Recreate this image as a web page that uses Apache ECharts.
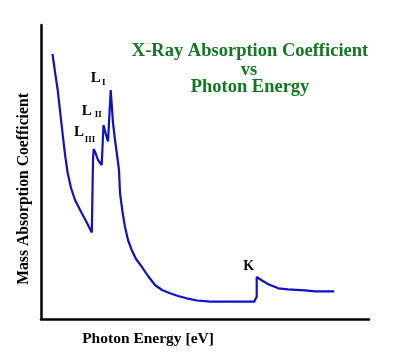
<!DOCTYPE html>
<html>
<head>
<meta charset="utf-8">
<script src="https://cdn.jsdelivr.net/npm/echarts@6/dist/echarts.min.js"></script>
<style>
html,body{margin:0;padding:0;background:#fff;}
#chart{width:395px;height:364px;}
</style>
</head>
<body>
<div id="chart"></div>
<script>
// Photon energy (arbitrary units) and mass absorption coefficient (arbitrary units)
var energy = [11.5,14,16.7,19.5,22.3,24.5,26.7,30,34,40.7,46,50.8,52,52.7,54.5,57,60.7,62.5,64.5,67,69.7,72,74,76.3,78,79,81.5,84,87,90.7,95,100.7,107,114,121,129,137,145.7,156,169,213.3,214.5,215.7,215.7,221,227.3,237.3,247,264,274,293.3];
var absorption = [265,247,229,204,179,161,146,131,119,106,96,86.5,159,170,166,159,154,194,186,177.5,229,196,179,162,149,126,107,92,79,69,60,52.3,43,34,29,25.7,23,20.7,18.5,17.3,17.3,20,22.3,42,38.5,34.7,30.7,29.7,28.7,27.7,27.7];

var title1 = 'X-Ray Absorption Coefficient';
var title2 = 'vs';
var title3 = 'Photon Energy';
var xName = 'Photon Energy [eV]';
var yName = 'Mass Absorption Coefficient';

var edgeMain = ['L', 'L', 'L', 'K'];
var edgeSub = ['I', 'II', 'III', ''];

var serif = '"Liberation Serif", "Times New Roman", serif';
var green = '#12781f';

var data = energy.map(function (e, i) { return [e, absorption[i]]; });

function mainLabel(txt, x, y, size) {
  return {
    coord: [x, y], symbol: 'circle', symbolSize: 0,
    label: { show: true, position: 'inside', formatter: txt,
      fontFamily: serif, fontWeight: 'bold', fontSize: size, color: '#000' }
  };
}

var marks = [
  mainLabel(edgeMain[0], 54.8, 240.5, 15),
  mainLabel(edgeSub[0], 62.8, 236.5, 9),
  mainLabel(edgeMain[1], 45.7, 208, 15),
  mainLabel(edgeSub[1], 57.3, 204.5, 9),
  mainLabel(edgeMain[2], 38, 187.3, 15),
  mainLabel(edgeSub[2], 49, 179, 9),
  mainLabel(edgeMain[3], 207.7, 53, 14)
];

var titleStyle = { fontFamily: serif, fontWeight: 'bold', fontSize: 18.5, color: green };

var chart = echarts.init(document.getElementById('chart'), null, { renderer: 'canvas' });
chart.setOption({
  animation: false,
  backgroundColor: '#fff',
  title: [
    { text: title1, left: 250, top: 51, textAlign: 'center', textVerticalAlign: 'middle', padding: 0, textStyle: titleStyle },
    { text: title2, left: 249, top: 70, textAlign: 'center', textVerticalAlign: 'middle', padding: 0, textStyle: titleStyle },
    { text: title3, left: 250, top: 87, textAlign: 'center', textVerticalAlign: 'middle', padding: 0, textStyle: titleStyle }
  ],
  grid: { left: 41, right: 26, top: 25, bottom: 45, containLabel: false },
  xAxis: {
    type: 'value', min: 0, max: 328,
    name: xName, nameLocation: 'middle', nameGap: 12,
    nameTextStyle: { fontFamily: serif, fontWeight: 'bold', fontSize: 15.5, color: '#000', padding: [0, 114, 0, 0] },
    axisLine: { show: true, lineStyle: { color: '#000', width: 2.5 } },
    axisTick: { show: false }, axisLabel: { show: false }, splitLine: { show: false }
  },
  yAxis: {
    type: 'value', min: 0, max: 294,
    name: yName, nameLocation: 'middle', nameGap: 9,
    nameTextStyle: { fontFamily: serif, fontWeight: 'bold', fontSize: 15.7, color: '#000', padding: [0, 34, 0, 0] },
    axisLine: { show: true, lineStyle: { color: '#000', width: 2.5 } },
    axisTick: { show: false }, axisLabel: { show: false }, splitLine: { show: false }
  },
  series: [{
    type: 'line', data: data, showSymbol: false, smooth: false,
    lineStyle: { color: '#1010c8', width: 2.2 },
    markPoint: { symbol: 'circle', symbolSize: 0, data: marks, silent: true }
  }]
});
</script>
</body>
</html>
